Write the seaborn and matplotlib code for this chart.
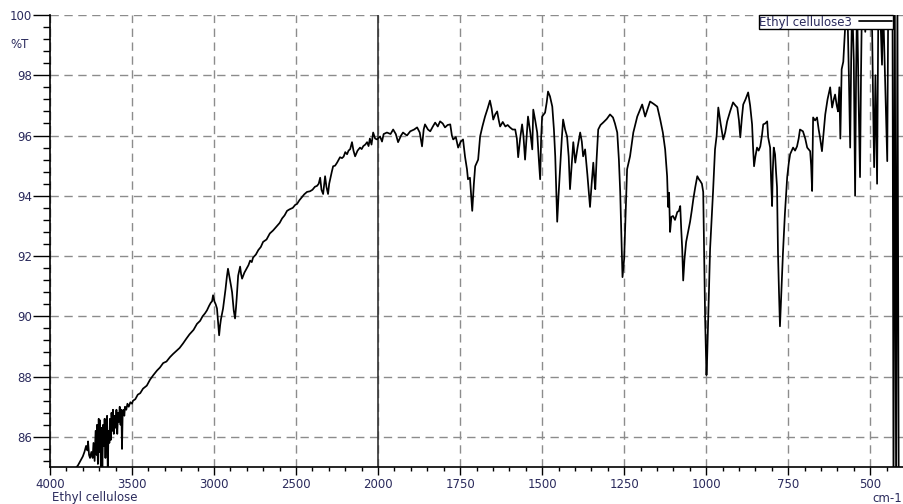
import numpy as np
import matplotlib
matplotlib.use("Agg")
import matplotlib.pyplot as plt
import matplotlib.ticker as mticker
import seaborn as sns

# ---------- data (wavenumber cm-1, %T) ----------
wavenumber = [
    4000, 3900, 3830, 3815, 3800, 3790, 3780, 3772, 3768, 3762, 3756, 3748, 3740, 3735,
    3728, 3722, 3716, 3713, 3708, 3703, 3698, 3695, 3690, 3686, 3681, 3676, 3671, 3667,
    3662, 3657, 3652, 3648, 3643, 3638, 3634, 3629, 3625, 3620, 3616, 3611, 3605, 3600,
    3595, 3590, 3585, 3580, 3575, 3570, 3565, 3561, 3557, 3552, 3547, 3543, 3535, 3528,
    3520, 3510, 3500, 3494, 3480, 3465, 3450, 3433, 3410, 3390, 3370, 3348, 3330, 3310,
    3290, 3268, 3250, 3230, 3210, 3189, 3170, 3150, 3125, 3104, 3085, 3070, 3055, 3043,
    3030, 3020, 3012, 3006, 2998, 2990, 2982, 2975, 2969, 2963, 2958, 2945, 2937, 2930,
    2922, 2915, 2909, 2903, 2896, 2890, 2880, 2872, 2866, 2862, 2853, 2847, 2841, 2835,
    2829, 2815, 2800, 2790, 2780, 2770, 2762, 2745, 2730, 2715, 2701, 2680, 2660, 2640,
    2616, 2600, 2585, 2570, 2555, 2540, 2520, 2505, 2494, 2480, 2465, 2450, 2433, 2415,
    2400, 2385, 2372, 2362, 2353, 2345, 2335, 2328, 2323, 2315, 2305, 2298, 2290, 2282,
    2274, 2262, 2250, 2240, 2232, 2220, 2210, 2200, 2189, 2180, 2170, 2159, 2150, 2140,
    2125, 2110, 2100, 2090, 2078, 2067, 2058, 2050, 2040, 2030, 2018, 2006, 1994, 1988,
    1983, 1973, 1962, 1954, 1946, 1939, 1930, 1924, 1912, 1902, 1890, 1881, 1873, 1866,
    1861, 1857, 1848, 1841, 1833, 1826, 1818, 1811, 1803, 1796, 1788, 1780, 1775, 1771,
    1763, 1756, 1748, 1741, 1735, 1729, 1726, 1720, 1713, 1708, 1704, 1695, 1689, 1682,
    1674, 1666, 1659, 1654, 1649, 1643, 1637, 1632, 1628, 1620, 1612, 1605, 1598, 1590,
    1582, 1577, 1573, 1567, 1561, 1557, 1552, 1547, 1543, 1536, 1530, 1527, 1521, 1515,
    1510, 1506, 1503, 1500, 1491, 1486, 1482, 1476, 1469, 1464, 1460, 1454, 1450, 1445,
    1440, 1436, 1430, 1424, 1419, 1415, 1410, 1405, 1399, 1392, 1384, 1379, 1375, 1369,
    1362, 1354, 1349, 1344, 1341, 1338, 1334, 1329, 1322, 1314, 1303, 1293, 1284, 1278,
    1271, 1266, 1262, 1258, 1255, 1250, 1245, 1241, 1232, 1222, 1210, 1195, 1186, 1178,
    1171, 1160, 1149, 1140, 1132, 1125, 1119, 1116, 1113, 1110, 1106, 1101, 1095, 1088,
    1083, 1079, 1076, 1073, 1070, 1066, 1061, 1055, 1049, 1044, 1039, 1033, 1027, 1022,
    1018, 1013, 1009, 1006, 1003, 1001, 999, 997, 994, 991, 988, 983, 979, 973,
    968, 963, 956, 948, 942, 936, 927, 918, 911, 905, 900, 896, 891, 887,
    880, 872, 866, 860, 857, 854, 850, 845, 840, 835, 830, 826, 820, 814,
    811, 805, 802, 799, 797, 794, 790, 787, 784, 781, 778, 775, 772, 769,
    766, 760, 753, 748, 744, 735, 729, 723, 718, 714, 705, 698, 692, 683,
    680, 677, 674, 668, 662, 657, 653, 647, 642, 637, 630, 622, 616, 611,
    607, 602, 598, 594, 591, 587, 582, 578, 576, 570, 565, 561, 558, 555,
    550, 546, 543, 540, 535, 531, 528, 525, 520, 515, 510, 506, 500, 494,
    491, 488, 484, 479, 475, 470, 464, 461, 455, 448, 445, 438, 432, 429,
    425, 421, 417, 413, 409,
]
transmittance = [
    84.3, 84.6, 85.05, 85.2, 85.35, 85.5, 85.7, 85.55, 85.85, 85.4, 85.3, 85.5, 85.3, 85.8,
    85.2, 86.2, 85.4, 86.4, 85.1, 86.6, 85.5, 86.55, 85.0, 86.3, 84.9, 86.4, 85.7, 86.6,
    85.3, 86.5, 86.7, 84.9, 86.2, 85.8, 86.6, 85.9, 86.8, 86.2, 86.9, 86.1, 86.7, 86.3,
    86.9, 86.1, 86.8, 86.5, 87.0, 86.4, 86.9, 85.6, 86.8, 86.9, 86.7, 87.0, 86.9, 87.1,
    87.0, 87.15, 87.1, 87.2, 87.25, 87.4, 87.45, 87.6, 87.7, 87.9, 88.05, 88.2, 88.3, 88.45,
    88.5, 88.65, 88.75, 88.85, 88.95, 89.1, 89.25, 89.4, 89.55, 89.75, 89.85, 90.0, 90.1, 90.2,
    90.35, 90.45, 90.5, 90.7, 90.5, 90.4, 90.26, 89.8, 89.37, 89.7, 89.9, 90.26, 90.6, 90.9,
    91.3, 91.58, 91.4, 91.2, 91.0, 90.8, 90.2, 89.93, 90.3, 90.6, 91.35, 91.5, 91.65, 91.4,
    91.25, 91.45, 91.6, 91.7, 91.85, 91.8, 91.95, 92.05, 92.2, 92.3, 92.47, 92.55, 92.75, 92.85,
    93.0, 93.1, 93.25, 93.35, 93.5, 93.55, 93.6, 93.7, 93.73, 93.85, 93.95, 94.05, 94.13, 94.15,
    94.2, 94.3, 94.33, 94.4, 94.6, 94.2, 94.06, 94.4, 94.65, 94.3, 94.06, 94.4, 94.6, 94.8,
    94.98, 95.0, 95.1, 95.2, 95.28, 95.25, 95.3, 95.45, 95.38, 95.5, 95.55, 95.78, 95.5, 95.31,
    95.5, 95.6, 95.55, 95.65, 95.7, 95.78, 95.65, 95.9, 95.7, 96.1, 95.9, 95.87, 95.97, 95.8,
    96.05, 96.1, 96.05, 96.2, 96.05, 95.78, 96.0, 96.1, 96.0, 96.14, 96.2, 96.27, 96.1, 95.64,
    96.2, 96.37, 96.2, 96.14, 96.3, 96.43, 96.3, 96.47, 96.4, 96.27, 96.35, 96.37, 96.0, 95.87,
    95.95, 95.6, 95.8, 95.87, 95.3, 94.88, 94.55, 94.6, 93.5, 94.4, 94.98, 95.2, 95.97, 96.3,
    96.63, 96.9, 97.16, 96.9, 96.53, 96.7, 96.8, 96.5, 96.3, 96.45, 96.3, 96.35, 96.27, 96.2,
    96.2, 95.9, 95.28, 95.9, 96.37, 96.0, 95.2, 96.0, 96.63, 96.1, 95.54, 96.86, 96.5, 96.1,
    95.2, 94.55, 95.9, 96.63, 96.76, 97.1, 97.46, 97.3, 96.96, 96.2, 95.31, 93.14, 94.0, 94.98,
    95.9, 96.53, 96.2, 95.97, 95.3, 94.22, 95.0, 95.78, 95.1, 95.6, 96.1, 95.8, 95.31, 95.54,
    94.7, 93.63, 94.4, 95.1, 94.6, 94.22, 95.2, 96.2, 96.35, 96.43, 96.55, 96.7, 96.6, 96.4,
    96.1, 95.2, 94.13, 92.5, 91.3, 91.9, 93.5, 94.88, 95.31, 96.1, 96.63, 97.03, 96.63, 96.9,
    97.13, 97.05, 96.96, 96.53, 96.1, 95.54, 94.65, 93.63, 94.1, 92.8, 93.3, 93.33, 93.2, 93.46,
    93.5, 93.66, 92.9, 92.24, 91.19, 91.9, 92.47, 92.8, 93.14, 93.5, 93.9, 94.3, 94.65, 94.55,
    94.49, 94.4, 94.13, 92.0, 89.84, 88.9, 88.05, 88.6, 89.84, 91.0, 92.24, 93.3, 94.13, 95.54,
    96.0, 96.93, 96.4, 95.87, 96.1, 96.47, 96.8, 97.1, 97.0, 96.93, 96.5, 95.94, 96.6, 97.03,
    97.2, 97.43, 97.0, 96.37, 95.6, 94.98, 95.3, 95.6, 95.5, 95.64, 96.0, 96.37, 96.4, 96.47,
    95.94, 95.6, 94.5, 93.66, 94.8, 95.6, 95.38, 94.8, 94.29, 92.08, 90.8, 89.67, 90.5, 91.3,
    92.08, 93.4, 94.62, 95.1, 95.38, 95.6, 95.5, 95.64, 95.9, 96.2, 96.14, 95.9, 95.6, 95.48,
    95.0, 94.16, 96.6, 96.5, 96.6, 96.2, 95.94, 95.48, 96.1, 96.7, 97.2, 97.6, 96.93, 97.2,
    97.36, 97.0, 96.8, 97.6, 95.9, 98.2, 98.45, 99.3, 99.67, 100.5, 98.0, 95.6, 98.5, 100.5,
    98.5, 94.0, 98.0, 100.5, 97.0, 94.62, 98.0, 100.5, 100.3, 99.44, 100.5, 100.5, 100.5, 99.44,
    97.0, 94.95, 98.0, 94.4, 100.5, 100.3, 98.35, 100.5, 98.0, 95.15, 100.5, 100.5, 100.5, 84.0,
    100.5, 84.0, 100.5, 84.0, 84.0,
]

x_major = [4000, 3500, 3000, 2500, 2000, 1750, 1500, 1250, 1000, 750, 500]
y_major = [86, 88, 90, 92, 94, 96, 98, 100]
x_minor = list(range(3900, 2000, -100)) + list(range(1950, 400, -50))

label_col = "#2a2a5c"

# ---------- style ----------
sns.set_style("white")
plt.rcParams["font.family"] = ["DejaVu Sans"]


# split axis: below 2000 cm-1 the scale is doubled
def fwd(x):
    x = np.asarray(x, dtype=float)
    return np.where(x >= 2000, x, 2 * x - 2000)


def inv(u):
    u = np.asarray(u, dtype=float)
    return np.where(u >= 2000, u, (u + 2000) / 2)


fig = plt.figure(figsize=(9.04, 5.04), dpi=100)
ax = fig.add_axes([50 / 904, 37 / 504, 853 / 904, 452 / 504])
ax.set_xscale("function", functions=(fwd, inv))

sns.lineplot(x=wavenumber, y=transmittance, ax=ax, color="black", lw=1.25,
             estimator=None, sort=False, label="Ethyl cellulose3")

ax.set_xlim(4000, 400)
ax.set_ylim(85, 100)

ax.xaxis.set_major_locator(mticker.FixedLocator(x_major))
ax.xaxis.set_minor_locator(mticker.FixedLocator(x_minor))
ax.xaxis.set_major_formatter(mticker.FixedFormatter([str(v) for v in x_major]))
ax.xaxis.set_minor_formatter(mticker.NullFormatter())
ax.yaxis.set_major_locator(mticker.FixedLocator(y_major))
ax.yaxis.set_minor_locator(mticker.MultipleLocator(0.4))

ax.grid(True, which="major", ls=(0, (6, 4)), color="#8c8c8c", lw=1)
ax.axvline(2000, color="#333333", lw=1.2, zorder=1.5)

for s in ["top", "right"]:
    ax.spines[s].set_visible(False)
for s in ["left", "bottom"]:
    ax.spines[s].set_color("black")
    ax.spines[s].set_linewidth(1.2)

ax.tick_params(axis="y", which="major", direction="out", length=12, width=1,
               color="black", pad=1, labelsize=8.5, labelcolor=label_col, left=True)
ax.tick_params(axis="y", which="minor", direction="out", length=5, width=1,
               color="black", left=True)
ax.tick_params(axis="x", which="major", direction="out", length=6, width=1,
               color="black", pad=2, labelsize=8.5, labelcolor=label_col, bottom=True)
ax.tick_params(axis="x", which="minor", direction="out", length=3, width=1,
               color="black", bottom=True)
ax.set_xlabel("")
ax.set_ylabel("")

leg = ax.legend(loc="upper right", bbox_to_anchor=(0.988, 1.0), markerfirst=False,
                fancybox=False, edgecolor="black", framealpha=1, fontsize=8.5,
                borderpad=0.05, borderaxespad=0, handlelength=2.8, handletextpad=0.6)
leg.get_frame().set_linewidth(1)
for t in leg.get_texts():
    t.set_color(label_col)

fig.text(10 / 904, 1 - 45 / 504, "%T", fontsize=8.5, color=label_col, va="center", ha="left")
fig.text(52 / 904, 1 - 497 / 504, "Ethyl cellulose", fontsize=8.5, color=label_col,
         va="center", ha="left")
fig.text(902 / 904, 1 - 498 / 504, "cm-1", fontsize=8.5, color=label_col,
         va="center", ha="right")

fig.savefig("out.png", dpi=100)
